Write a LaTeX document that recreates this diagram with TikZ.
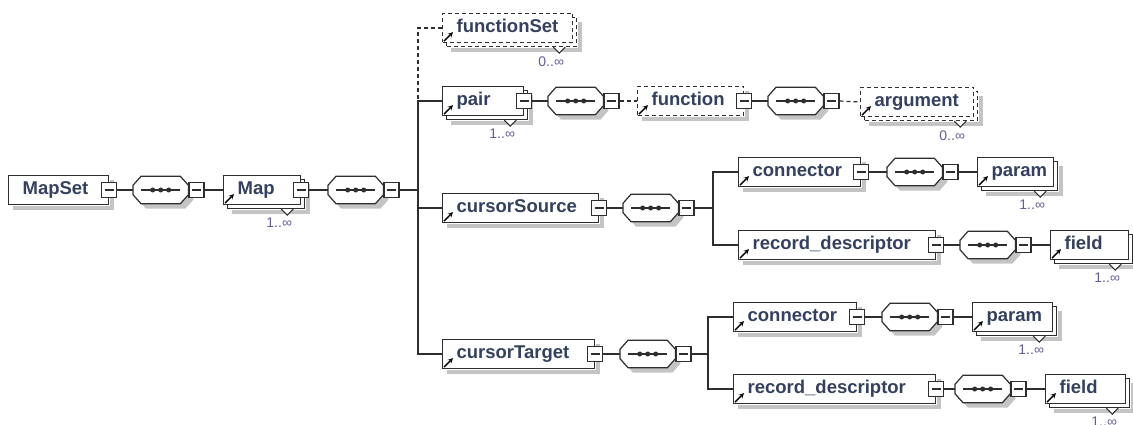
\documentclass[tikz,border=0pt]{standalone}
\usepackage{fontspec}
\setmainfont{Liberation Sans}
\usepackage{tikz}
\usetikzlibrary{shadows}
\definecolor{linegray}{HTML}{2E2E2E}
\definecolor{shadowcol}{HTML}{C4C4C4}
\definecolor{namecol}{HTML}{33405E}
\definecolor{occcol}{HTML}{6A5A98}
\newcommand{\namefont}{\fontsize{18.5}{20}\selectfont\bfseries}
\newcommand{\occfont}{\fontsize{14}{16}\selectfont}
\newcommand{\minusbar}{\rule{9pt}{1.1pt}}
\tikzstyle{box} = [rectangle, draw=linegray, line width=1.2pt, fill=white, anchor=west, minimum height=29pt, text height=13pt, text depth=4pt, inner xsep=14pt, align=left, text=namecol, font=\namefont]
\tikzstyle{elem} = [box]
\tikzstyle{optelem} = [box, dash pattern=on 4pt off 3pt]
\tikzstyle{multi} = [box, copy shadow={shadow xshift=4pt, shadow yshift=-4pt, fill=white, draw=linegray, line width=1.2pt}]
\tikzstyle{optmulti} = [box, dash pattern=on 4pt off 3pt, copy shadow={shadow xshift=4pt, shadow yshift=-4pt, fill=white, draw=linegray, line width=1.2pt, dash pattern=on 4pt off 3pt}]
\tikzstyle{seq} = [rectangle, minimum width=55pt, minimum height=27pt, inner sep=0pt, anchor=west]
\tikzstyle{octshape} = [draw=linegray, line width=1.2pt, fill=white]
\tikzstyle{minus} = [rectangle, draw=linegray, line width=1.1pt, fill=white, minimum width=15pt, minimum height=15pt, inner sep=0pt, text=linegray]
\tikzstyle{occ} = [anchor=north east, inner sep=0pt, text=occcol, font=\occfont]
\tikzstyle{conn} = [draw=linegray, line width=1.2pt]
\tikzstyle{optconn} = [conn, dash pattern=on 4pt off 3pt]
\tikzstyle{refarrow} = [line width=1.3pt, ->, >=stealth, black]

\begin{document}
\begin{tikzpicture}[x=1pt, y=-1pt]
\useasboundingbox (0,0) rectangle (1133,425);
\coordinate (tk) at (418,0);
\coordinate (bra) at (713,0);
\coordinate (brb) at (708,0);

% elements
\node (mapset) [elem, text width=72pt] at (8,190) {MapSet};
\node (map) [multi, text width=49pt] at (223,190) {Map};
\node (fset) [optmulti, text width=102pt] at (442,28) {functionSet};
\node (pair) [multi, text width=53pt] at (442,101) {pair};
\node (func) [optelem, text width=78pt] at (637,101) {function};
\node (arg) [optmulti, text width=85pt] at (860,102) {argument};
\node (csrc) [elem, text width=128pt] at (442,208) {cursorSource};
\node (conn1) [elem, text width=94pt] at (738,172) {connector};
\node (param1) [multi, text width=48pt] at (977,172) {param};
\node (rec1) [elem, text width=169pt] at (738,245) {record\_descriptor};
\node (field1) [multi, text width=50pt] at (1050,245) {field};
\node (ctgt) [elem, text width=124pt] at (442,354) {cursorTarget};
\node (conn2) [elem, text width=95pt] at (733,317) {connector};
\node (param2) [multi, text width=52pt] at (972,317) {param};
\node (rec2) [elem, text width=174pt] at (733,389) {record\_descriptor};
\node (field2) [multi, text width=52pt] at (1045,389) {field};

% shadow strips (inner edge, outer edge)
\foreach \n/\b/\o in {mapset/0.6/5,csrc/0.6/5,conn1/0.6/5,rec1/0.6/5,ctgt/0.6/5,conn2/0.6/5,rec2/0.6/5,func/0.6/5,map/4.6/9,pair/4.6/9,param1/4.6/9,field1/4.6/9,param2/4.6/9,field2/4.6/9,fset/4.6/9,arg/4.6/9} {
  \fill[shadowcol] ([xshift=\b pt,yshift=-\o pt]\n.north east) rectangle ([xshift=\o pt,yshift=-\o pt]\n.south east);
  \fill[shadowcol] ([xshift=\o pt,yshift=-\b pt]\n.south west) rectangle ([xshift=\o pt,yshift=-\o pt]\n.south east);
}

% sequences
\node (sqa) [seq] at (133,190) {};
\node (sqb) [seq] at (328,190) {};
\node (sqc) [seq] at (548,101) {};
\node (sqd) [seq] at (768,101) {};
\node (sqe) [seq] at (623,208) {};
\node (sqf) [seq] at (887,172) {};
\node (sqg) [seq] at (960,245) {};
\node (sqh) [seq] at (620,354) {};
\node (sqi) [seq] at (882,317) {};
\node (sqj) [seq] at (955,389) {};
\foreach \s in {sqa,sqb,sqc,sqd,sqe,sqf,sqg,sqh,sqi,sqj} {
  \fill[shadowcol] ([xshift=13pt,yshift=-5pt]\s.north west) -- ([xshift=-3pt,yshift=-5pt]\s.north east) -- ([xshift=5pt,yshift=-14pt]\s.north east) -- ([xshift=5pt,yshift=4pt]\s.south east) -- ([xshift=-3pt,yshift=-5pt]\s.south east) -- ([xshift=13pt,yshift=-5pt]\s.south west) -- ([xshift=5pt,yshift=4pt]\s.south west) -- ([xshift=5pt,yshift=-14pt]\s.north west) -- cycle;
  \draw[octshape] ([xshift=8pt]\s.north west) -- ([xshift=-8pt]\s.north east) -- ([yshift=-9pt]\s.north east) -- ([yshift=9pt]\s.south east) -- ([xshift=-8pt]\s.south east) -- ([xshift=8pt]\s.south west) -- ([yshift=9pt]\s.south west) -- ([yshift=-9pt]\s.north west) -- cycle;
  \draw[conn] ([xshift=8pt]\s.west) -- ([xshift=-8pt]\s.east);
  \foreach \d in {-8,0,8}
    \fill[linegray] ([xshift=\d pt]\s.center) circle (2.5pt);
  \node (\s-m) [minus, anchor=west] at (\s.east) {\minusbar};
}

% reference arrows, repeat marks
\foreach \n in {map,fset,pair,func,arg,csrc,conn1,param1,rec1,field1,ctgt,conn2,param2,rec2,field2}
  \draw[refarrow] ([shift={(2pt,2pt)}]\n.south west) -- ++(9pt,9pt);
\foreach \n/\lo in {map/1,pair/1,fset/0,arg/0,param1/1,field1/1,param2/1,field2/1} {
  \filldraw[fill=white, draw=linegray, line width=1pt] ([xshift=-20pt,yshift=-4pt]\n.south east) -- ++(6pt,-6pt) -- ++(6pt,6pt);
  \node (\n-occ) [occ] at ([xshift=-9pt,yshift=-13pt]\n.south east) {\lo..∞};
}
\foreach \n in {mapset,map,pair,func,csrc,conn1,rec1,ctgt,conn2,rec2}
  \node (\n-m) [minus] at (\n.east) {\minusbar};

% connectors
\draw[conn] (mapset-m.east) -- (sqa.west);
\draw[conn] (sqa-m.east) -- (map.west);
\draw[conn] (map-m.east) -- (sqb.west);
\draw[conn] (sqb-m.east) -- (tk |- sqb-m.east);
\draw[optconn] (fset.west) -| (tk |- pair.west);
\draw[conn] (pair.west) -| (tk |- ctgt.west) -- (ctgt.west);
\draw[conn] (tk |- csrc.west) -- (csrc.west);
\draw[conn] (pair-m.east) -- (sqc.west);
\draw[optconn] (sqc-m.east) -- (func.west);
\draw[conn] (func-m.east) -- (sqd.west);
\draw[optconn] (sqd-m.east) -- (arg.west);
\draw[conn] (csrc-m.east) -- (sqe.west);
\draw[conn] (sqe-m.east) -- (bra |- sqe-m.east);
\draw[conn] (conn1.west) -| (bra |- rec1.west) -- (rec1.west);
\draw[conn] (conn1-m.east) -- (sqf.west);
\draw[conn] (sqf-m.east) -- (param1.west);
\draw[conn] (rec1-m.east) -- (sqg.west);
\draw[conn] (sqg-m.east) -- (field1.west);
\draw[conn] (ctgt-m.east) -- (sqh.west);
\draw[conn] (sqh-m.east) -- (brb |- sqh-m.east);
\draw[conn] (conn2.west) -| (brb |- rec2.west) -- (rec2.west);
\draw[conn] (conn2-m.east) -- (sqi.west);
\draw[conn] (sqi-m.east) -- (param2.west);
\draw[conn] (rec2-m.east) -- (sqj.west);
\draw[conn] (sqj-m.east) -- (field2.west);
\end{tikzpicture}
\end{document}
